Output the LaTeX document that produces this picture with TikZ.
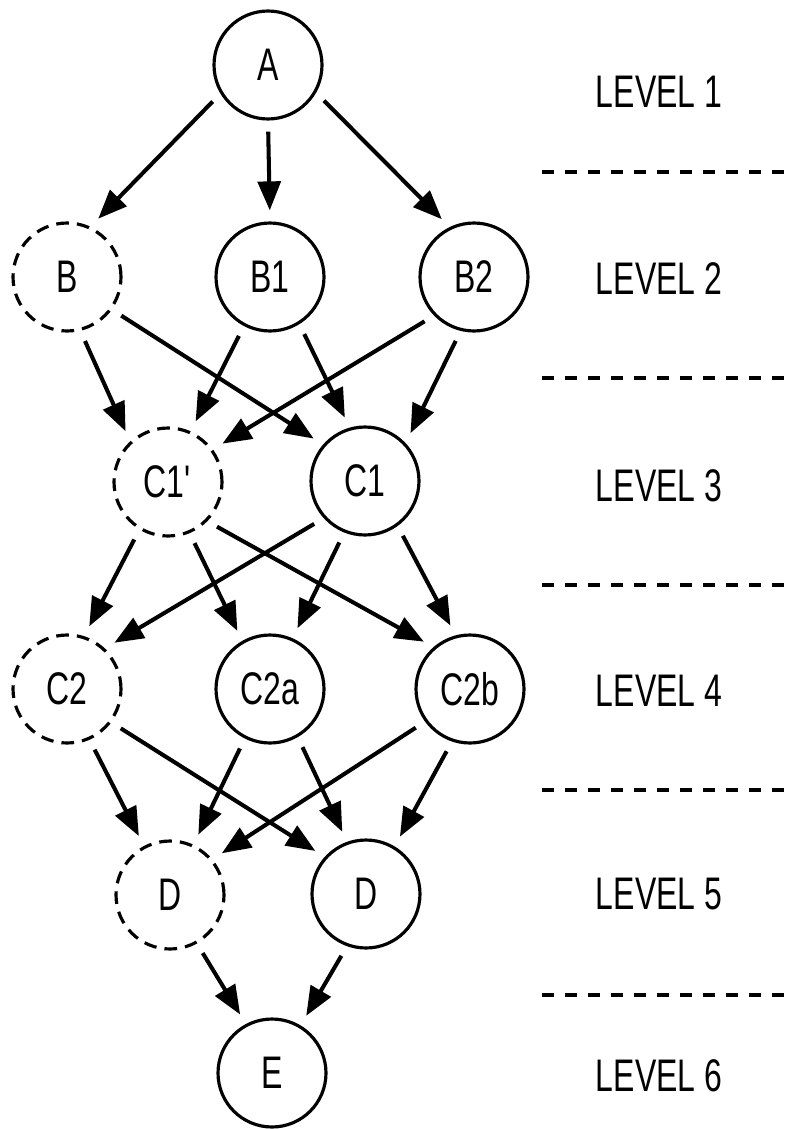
\documentclass[tikz,border=0pt]{standalone}
\usepackage{fontspec}
\setmainfont{Liberation Sans}[FakeStretch=0.7]
\usetikzlibrary{arrows.meta}

\tikzset{
  state/.style={circle, draw, line width=1.8pt, minimum size=2.16cm, inner sep=0pt},
  ghost/.style={state, dash pattern=on 7.2pt off 4.6pt},
  arc/.style={line width=2.3pt, -{Triangle[length=16.5pt,width=13pt]},
              shorten <=6.3pt, shorten >=6.3pt},
  levelsep/.style={line width=1.8pt, dash pattern=on 6.8pt off 6.3pt}
}

\begin{document}
\begin{tikzpicture}[x=0.02cm, y=-0.02cm]
        \fontsize{26}{30}\selectfont
        \useasboundingbox (0,0) rectangle (790,1129);

        % States, level by level
        \node[state] (A) at (268,65) {A};

        \node[ghost] (B) at (67,277) {B};
        \node[state] (B1) at (270,277) {B1};
        \node[state] (B2) at (474,277) {B2};

        \node[ghost] (C1p) at (168,482) {C1\textquotesingle};
        \node[state] (C1) at (365,481) {C1};

        \node[ghost] (C2) at (67,689) {C2};
        \node[state] (C2a) at (270,689) {C2a};
        \node[state] (C2b) at (470,689) {C2b};

        \node[ghost] (Dp) at (170,895) {D};
        \node[state] (D) at (366,894) {D};

        \node[state] (E) at (272,1073) {E};

        % Level names
        \node (lvl1) at (659,92) {LEVEL 1};
        \node (lvl2) at (659,279) {LEVEL 2};
        \node (lvl3) at (659,486) {LEVEL 3};
        \node (lvl4) at (659,691) {LEVEL 4};
        \node (lvl5) at (659,894) {LEVEL 5};
        \node (lvl6) at (659,1076) {LEVEL 6};

        % Separators between levels
        \draw[levelsep] (542,172) -- (790,172);
        \draw[levelsep] (542,378) -- (790,378);
        \draw[levelsep] (542,585) -- (790,585);
        \draw[levelsep] (542,790) -- (790,790);
        \draw[levelsep] (542,995) -- (790,995);

        % Level 1 -> level 2
        \draw[arc] (A.211) -- (B.65);
        \draw[arc] (A.270) -- (B1.90);
        \draw[arc] (A.330) -- (B2.116);

        % Level 2 -> level 3
        \draw[arc] (B.284) -- (C1p.133);
        \draw[arc] (B.324) -- (C1.139);
        \draw[arc] (B1.242) -- (C1p.66);
        \draw[arc] (B1.302) -- (C1.106);
        \draw[arc] (B2.224) -- (C1p.36);
        \draw[arc] (B2.256) -- (C1.43);

        % Level 3 -> level 4
        \draw[arc] (C1p.239) -- (C2.72);
        \draw[arc] (C1p.293) -- (C2a.120);
        \draw[arc] (C1p.315) -- (C2b.131);
        \draw[arc] (C1.222) -- (C2.47);
        \draw[arc] (C1.248) -- (C2a.66);
        \draw[arc] (C1.306) -- (C2b.105);

        % Level 4 -> level 5
        \draw[arc] (C2.294) -- (Dp.118);
        \draw[arc] (C2.323) -- (D.138);
        \draw[arc] (C2a.243) -- (Dp.65);
        \draw[arc] (C2a.300) -- (D.110);
        \draw[arc] (C2b.216) -- (Dp.40);
        \draw[arc] (C2b.251) -- (D.59);

        % Level 5 -> level 6
        \draw[arc] (Dp.299) -- (E.118);
        \draw[arc] (D.250) -- (E.59);

      \end{tikzpicture}
\end{document}
